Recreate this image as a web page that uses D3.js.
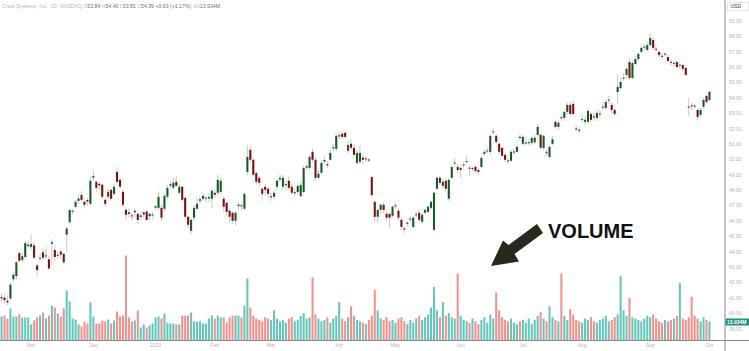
<!DOCTYPE html>
<html>
<head>
<meta charset="utf-8">
<script src="https://cdn.jsdelivr.net/npm/d3@7"></script>
<style>
  body { margin: 0; background: #fff; }
  svg { display: block; font-family: "Liberation Sans", Arial, sans-serif; }
</style>
</head>
<body>
<div id="chart"></div>
<script>
var width = 749, height = 351;
var plotRight = 725, axisY = 340.5;

// daily OHLC, CSCO, Oct 18 2022 .. Oct 2 2023
var openP = [
  40.95, 41.0, 40.8, 40.95, 42.2, 42.4, 43.9, 43.45, 43.65, 44.35,
  44.3, 44.4, 43.1, 43.55, 43.95, 43.7, 43.5, 44.5, 44.1, 43.72,
  44.0, 43.85, 45.1, 45.9, 46.6, 46.91, 47.3, 47.68, 47.23, 47.35,
  47.1, 48.8, 48.53, 48.4, 48.34, 47.36, 47.56, 48.01, 47.75, 49.18,
  48.66, 47.88, 46.71, 46.55, 46.35, 46.55, 46.45, 46.25, 46.4, 46.6,
  46.3, 46.35, 46.85, 46.84, 46.84, 46.78, 47.56, 48.28, 48.14, 48.53,
  47.82, 48.21, 47.49, 46.26, 45.35, 46.2, 46.78, 47.3, 47.43, 47.45,
  47.45, 47.43, 47.82, 47.82, 47.88, 47.43, 47.17, 46.65, 46.52, 46.0,
  46.95, 47.0, 46.78, 49.18, 50.61, 49.96, 49.1, 48.79, 48.08, 48.21,
  48.08, 47.52, 47.56, 48.21, 48.68, 48.21, 48.3, 48.6, 48.21, 47.78,
  47.87, 47.61, 47.87, 49.45, 49.43, 50.48, 49.96, 48.79, 49.12, 49.85,
  49.68, 49.96, 50.7, 50.67, 51.48, 51.65, 51.71, 50.55, 51.0, 50.74,
  49.76, 49.83, 50.1, 50.0, 49.98, 48.84, 47.23, 46.26, 46.71, 47.04,
  46.45, 46.45, 46.32, 46.93, 46.65, 46.06, 45.5, 45.8, 46.1, 45.6,
  46.36, 46.52, 45.93, 46.52, 46.58, 46.84, 45.41, 48.08, 48.79, 48.27,
  48.6, 47.43, 48.79, 49.72, 49.5, 49.3, 49.6, 49.82, 49.45, 49.43,
  49.5, 49.3, 49.5, 50.35, 50.52, 50.48, 51.74, 51.52, 51.0, 50.74,
  50.28, 49.92, 49.9, 50.45, 50.48, 51.45, 51.0, 51.04, 51.05, 51.06,
  51.1, 51.58, 51.58, 50.74, 50.45, 50.15, 51.0, 52.43, 52.1, 52.72,
  52.68, 53.07, 53.53, 53.59, 52.0, 51.92, 52.58, 52.43, 52.43, 52.94,
  52.78, 52.68, 52.92, 53.38, 53.33, 53.83, 53.53, 53.2, 54.37, 54.63,
  55.25, 55.48, 56.32, 55.28, 56.19, 56.51, 56.97, 57.27, 57.1, 57.42,
  57.75, 57.18, 56.97, 56.72, 56.82, 56.64, 56.33, 56.24, 56.32, 56.1,
  56.12, 55.93, 53.42, 53.5, 53.48, 53.2, 52.88, 53.4, 54.11, 53.84
];
var highP = [
  41.3, 41.2, 41.1, 42.0, 42.7, 43.4, 44.0, 43.9, 44.7, 44.7,
  45.1, 44.6, 43.2, 43.9, 44.2, 44.3, 43.7, 44.8, 44.4, 44.0,
  44.2, 43.9, 45.6, 46.8, 46.8, 47.35, 47.7, 47.9, 47.4, 47.5,
  48.9, 49.3, 48.6, 48.5, 48.4, 47.5, 48.1, 48.1, 48.4, 49.5,
  48.8, 48.0, 46.9, 46.8, 46.5, 46.8, 46.6, 46.5, 46.6, 46.7,
  46.5, 46.6, 47.0, 47.9, 47.0, 47.8, 48.3, 48.6, 48.8, 48.9,
  48.4, 48.3, 47.6, 46.3, 46.2, 47.0, 47.5, 47.6, 47.9, 47.6,
  47.8, 48.1, 48.0, 49.0, 48.8, 47.6, 47.3, 46.8, 46.6, 46.6,
  47.2, 47.1, 47.9, 50.9, 50.9, 50.1, 49.2, 48.9, 48.2, 48.4,
  48.2, 47.8, 48.0, 48.7, 49.0, 49.0, 48.6, 48.9, 48.4, 48.1,
  48.5, 48.6, 49.6, 49.7, 50.3, 50.7, 50.1, 49.3, 49.9, 50.2,
  49.9, 50.6, 51.0, 51.7, 51.8, 51.8, 51.9, 51.2, 51.3, 51.0,
  50.6, 50.9, 50.3, 50.2, 50.1, 48.9, 47.3, 46.8, 47.1, 47.2,
  46.6, 46.5, 47.0, 47.2, 46.8, 46.2, 45.6, 46.0, 46.3, 46.3,
  46.6, 46.7, 46.5, 46.8, 47.0, 47.3, 47.9, 48.9, 48.9, 48.7,
  48.7, 48.8, 49.6, 50.1, 49.7, 49.6, 49.8, 50.2, 49.6, 49.5,
  49.6, 49.4, 50.2, 50.6, 50.7, 51.6, 52.0, 51.6, 51.1, 50.8,
  50.4, 50.1, 50.6, 50.7, 51.0, 51.6, 51.6, 51.3, 51.3, 51.5,
  51.6, 52.3, 51.7, 51.6, 50.6, 50.9, 51.5, 52.6, 52.5, 52.9,
  53.2, 53.7, 53.7, 53.8, 52.2, 52.1, 52.9, 52.8, 53.3, 53.1,
  53.0, 53.2, 53.2, 53.7, 53.9, 54.1, 53.7, 53.3, 55.5, 55.3,
  55.6, 56.0, 56.5, 56.4, 56.7, 57.0, 57.4, 57.5, 57.6, 58.2,
  57.9, 57.3, 57.1, 56.9, 57.0, 56.8, 56.5, 56.4, 56.4, 56.3,
  56.2, 56.0, 54.0, 53.7, 53.6, 53.3, 53.4, 54.0, 54.2, 54.40
];
var lowP = [
  40.7, 40.6, 40.5, 40.8, 42.0, 42.2, 43.3, 43.3, 43.5, 44.2,
  44.1, 43.5, 42.4, 43.3, 43.4, 43.5, 42.8, 43.1, 43.4, 43.5,
  43.5, 43.2, 44.0, 45.8, 46.4, 46.8, 47.1, 47.2, 46.8, 47.0,
  47.0, 48.6, 47.9, 48.0, 47.4, 46.9, 47.4, 47.3, 47.6, 48.4,
  48.1, 46.9, 46.1, 46.2, 46.0, 46.2, 45.8, 46.1, 46.2, 46.0,
  46.0, 46.1, 46.7, 46.7, 46.0, 46.6, 47.4, 48.1, 48.0, 48.2,
  47.7, 47.2, 46.1, 45.5, 45.1, 46.0, 46.7, 47.1, 47.3, 47.2,
  47.2, 46.8, 47.5, 47.7, 47.7, 46.6, 46.3, 45.9, 45.8, 45.7,
  46.7, 46.7, 46.7, 49.0, 49.8, 48.9, 48.3, 48.2, 47.3, 47.6,
  47.4, 47.3, 47.4, 48.0, 48.5, 48.0, 48.0, 48.0, 47.7, 47.6,
  47.7, 47.5, 47.8, 49.3, 49.3, 49.8, 48.6, 48.7, 49.0, 49.7,
  49.4, 49.9, 50.5, 50.5, 51.3, 51.3, 51.3, 50.4, 50.6, 50.2,
  49.6, 49.7, 49.7, 49.8, 49.8, 47.5, 45.9, 45.9, 46.5, 46.5,
  46.0, 45.5, 46.2, 46.8, 46.0, 45.4, 45.2, 45.6, 45.9, 45.5,
  46.2, 45.9, 45.8, 46.4, 46.5, 46.7, 45.3, 48.0, 48.3, 48.1,
  47.9, 47.3, 48.7, 49.6, 49.1, 48.8, 49.4, 49.7, 48.9, 49.2,
  49.1, 49.0, 49.4, 50.2, 50.4, 50.3, 51.6, 51.0, 50.3, 50.1,
  49.8, 49.7, 49.8, 50.3, 50.4, 51.2, 50.9, 50.9, 50.9, 50.9,
  51.0, 51.4, 50.6, 50.6, 50.2, 50.0, 50.9, 52.0, 51.9, 52.5,
  52.5, 52.9, 52.8, 52.8, 51.8, 51.7, 52.4, 52.2, 52.3, 52.4,
  52.5, 52.5, 52.7, 53.2, 53.2, 53.6, 53.0, 52.8, 53.6, 54.5,
  55.1, 55.3, 55.2, 55.2, 56.1, 56.4, 56.9, 57.1, 57.0, 57.3,
  57.1, 57.0, 56.6, 56.5, 56.7, 56.3, 56.1, 56.0, 55.9, 55.9,
  55.7, 55.4, 52.8, 53.2, 53.3, 52.5, 52.7, 53.3, 53.6, 53.81
];
var closeP = [
  41.05, 40.85, 40.7, 41.85, 42.5, 43.3, 43.4, 43.7, 44.55, 44.45,
  44.5, 43.6, 42.8, 43.6, 43.6, 43.75, 42.9, 44.6, 43.65, 43.78,
  43.8, 43.3, 45.5, 46.7, 46.65, 47.23, 47.45, 47.36, 47.04, 47.25,
  48.6, 48.9, 48.14, 48.3, 47.56, 47.1, 47.88, 47.43, 48.21, 48.53,
  48.21, 47.04, 46.39, 46.45, 46.3, 46.65, 46.05, 46.35, 46.55, 46.05,
  46.45, 46.4, 46.95, 47.56, 46.2, 47.62, 48.14, 48.38, 48.47, 48.27,
  48.21, 47.36, 46.26, 45.74, 46.06, 46.84, 47.1, 47.4, 47.62, 47.5,
  47.55, 47.95, 47.69, 48.66, 48.6, 46.91, 46.58, 46.26, 46.0, 46.52,
  47.05, 46.95, 47.75, 50.15, 49.96, 48.99, 48.53, 48.47, 47.75, 48.01,
  47.75, 47.6, 47.82, 48.6, 48.78, 48.79, 48.38, 48.14, 47.82, 47.86,
  48.26, 48.33, 49.43, 49.55, 50.15, 49.96, 48.79, 49.05, 49.76, 49.95,
  49.6, 50.41, 50.78, 51.52, 51.56, 51.45, 51.45, 50.93, 50.74, 50.28,
  50.41, 50.41, 49.96, 50.05, 49.94, 47.67, 46.26, 46.71, 47.04, 46.71,
  46.2, 46.2, 46.91, 47.0, 46.2, 45.6, 45.45, 45.88, 46.14, 46.2,
  46.42, 46.06, 46.39, 46.71, 46.91, 47.23, 47.82, 48.79, 48.47, 48.53,
  48.08, 48.66, 49.5, 49.78, 49.3, 49.43, 49.66, 49.88, 49.4, 49.43,
  49.24, 49.18, 50.09, 50.48, 50.57, 51.52, 51.8, 51.13, 50.48, 50.22,
  49.96, 49.88, 50.48, 50.5, 50.8, 51.38, 51.45, 51.08, 51.1, 51.38,
  51.4, 52.1, 50.74, 51.52, 50.4, 50.8, 51.3, 52.1, 52.36, 52.66,
  53.07, 53.53, 52.94, 52.94, 51.95, 51.9, 52.62, 52.56, 53.14, 52.56,
  52.74, 53.01, 52.96, 53.42, 53.72, 53.87, 53.2, 52.94, 54.7, 55.02,
  55.3, 55.87, 55.28, 56.25, 56.51, 56.84, 57.23, 57.31, 57.42, 57.88,
  57.23, 57.14, 56.77, 56.7, 56.86, 56.38, 56.3, 56.26, 55.99, 56.14,
  55.87, 55.48, 53.38, 53.44, 53.44, 52.75, 53.2, 53.85, 53.72, 54.39
];
// volume, millions of shares
var volume = [
  17.5, 18.2, 16, 23.4, 17.5, 17.5, 19, 16.8, 16.8, 16.8,
  11.7, 14.6, 16.8, 18.2, 20.4, 16, 18.2, 25.5, 24, 19.7,
  17.5, 23.4, 36.5, 28.5, 16, 15.3, 11.7, 10.2, 13.9, 12.4,
  27.7, 17.5, 12.4, 12.4, 14.6, 13.9, 15.3, 12.4, 14.6, 21.2,
  17.5, 18.2, 62, 16.8, 13.9, 14.6, 21.9, 9.5, 11.7, 9.5,
  11, 12.4, 16.8, 17.5, 16, 19.7, 13.1, 12.4, 12.4, 11.7,
  11.7, 18.2, 18.2, 18.2, 20.4, 13.9, 13.9, 13.9, 12.4, 12.4,
  16, 18.2, 16, 18.2, 16.8, 16.8, 13.1, 16.8, 18.2, 18.2,
  18.2, 16.8, 25.5, 45.3, 24, 18, 16, 15, 14, 17,
  16, 15, 22, 16, 14, 15, 13, 16, 17, 14,
  15, 18, 20, 16, 17, 46, 19, 16, 14, 15,
  17, 13, 16, 18, 28, 16, 14, 17, 25, 18,
  15, 14, 13, 12, 15, 18, 37, 22, 16, 15,
  17, 14, 15, 13, 16, 17, 14, 12, 15, 13,
  16, 18, 15, 17, 19, 24, 39, 22, 17, 28,
  18, 20, 17, 16, 49, 18, 15, 14, 13, 16,
  14, 12, 15, 17, 13, 19, 16, 35, 22, 17,
  15, 14, 16, 13, 12, 14, 15, 13, 16, 12,
  15, 18, 21, 16, 14, 25, 17, 15, 14, 49,
  18, 15, 23, 19, 15, 14, 13, 16, 15, 17,
  14, 13, 15, 16, 18, 14, 15, 17, 19, 47,
  22, 18, 31, 17, 16, 15, 14, 16, 18, 17,
  19, 16, 14, 13, 15, 14, 15, 16, 18, 42,
  16, 15, 17, 32, 18, 16, 14, 17, 15, 13.934
];

var monthIdx = [10, 31, 52, 72, 91, 114, 133, 155, 176, 196, 219, 239];
var monthLabels = ["Nov", "Dec", "2023", "Feb", "Mar", "Apr", "May", "Jun", "Jul", "Aug", "Sep", "Oct"];
var priceTicks = [39, 40, 41, 42, 43, 44, 45, 46, 47, 48, 49, 50, 51, 52, 53, 54, 55, 56, 57, 58, 59];

var bars = openP.map(function(o, i) {
  return {i: i, o: o, h: highP[i], l: lowP[i], c: closeP[i], v: volume[i]};
});

var svg = d3.select("#chart")
  .append("svg")
    .attr("width", width)
    .attr("height", height);

var x = d3.scaleBand()
  .domain(d3.range(bars.length))
  .range([0.5, 710.5])
  .paddingInner(0.3);
var y = d3.scaleLinear()
  .domain([39, 59])
  .range([328.5, 20.7]);
var v = d3.scaleLinear()
  .domain([0, 100])
  .range([axisY, axisY - 137]);

var step = x.step();

// volume
svg.append("g")
  .selectAll("rect")
  .data(bars)
  .enter()
  .append("rect")
    .attr("x", function(d) { return x(d.i) + x.bandwidth() / 2 - (step - 0.9) / 2; })
    .attr("width", step - 0.9)
    .attr("y", function(d) { return v(d.v); })
    .attr("height", function(d) { return axisY - v(d.v); })
    .attr("fill", function(d) { return d.c >= d.o ? "#67c6bb" : "#f4918e"; });

// wicks
svg.append("g")
  .selectAll("line")
  .data(bars)
  .enter()
  .append("line")
    .attr("x1", function(d) { return x(d.i) + x.bandwidth() / 2; })
    .attr("x2", function(d) { return x(d.i) + x.bandwidth() / 2; })
    .attr("y1", function(d) { return y(d.h); })
    .attr("y2", function(d) { return y(d.l); })
    .attr("stroke", "#c9c9c9")
    .attr("stroke-width", 1);

// bodies
svg.append("g")
  .selectAll("rect")
  .data(bars)
  .enter()
  .append("rect")
    .attr("x", function(d) { return x(d.i); })
    .attr("width", x.bandwidth())
    .attr("y", function(d) { return y(Math.max(d.o, d.c)); })
    .attr("height", function(d) { return Math.max(1, Math.abs(y(d.o) - y(d.c))); })
    .attr("fill", function(d) { return d.c >= d.o ? "#145a23" : "#7e0e0e"; });

// axes
svg.append("line")
  .attr("x1", plotRight).attr("x2", plotRight)
  .attr("y1", 0).attr("y2", height)
  .attr("stroke", "#8a8a8a");
svg.append("line")
  .attr("x1", 0).attr("x2", width)
  .attr("y1", axisY).attr("y2", axisY)
  .attr("stroke", "#8a8a8a");

var yAxis = svg.append("g")
  .attr("transform", "translate(" + plotRight + ",0)")
  .call(d3.axisRight(y).tickValues(priceTicks).tickFormat(d3.format(".2f")).tickSize(0).tickPadding(4));
yAxis.select(".domain").remove();
yAxis.selectAll("text").attr("fill", "#b4b4b4").style("font-size", "5px");

var xAxis = svg.append("g")
  .attr("transform", "translate(0," + axisY + ")")
  .call(d3.axisBottom(x).tickValues(monthIdx)
    .tickFormat(function(d) { return monthLabels[monthIdx.indexOf(d)]; })
    .tickSize(0).tickPadding(3));
xAxis.select(".domain").remove();
xAxis.selectAll("text").attr("fill", "#b4b4b4").style("font-size", "5px");

// currency box
svg.append("rect")
  .attr("x", 727.5).attr("y", 2.5).attr("width", 21).attr("height", 8)
  .attr("fill", "#fff").attr("stroke", "#e3e3e3");
svg.append("text")
  .attr("x", 730.5).attr("y", 8.3)
  .style("font-size", "5px").attr("fill", "#333")
  .text("USD");

// last volume tag
svg.append("rect")
  .attr("x", 725.5).attr("y", 318.5).attr("width", 23.5).attr("height", 7)
  .attr("fill", "#22917f");
svg.append("text")
  .attr("x", 727).attr("y", 323.9)
  .style("font-size", "5px").style("font-weight", "bold").attr("fill", "#fff")
  .text(d3.format(".3f")(volume[volume.length - 1]) + "M");

// legend line
var last = bars[bars.length - 1];
var legend = svg.append("text")
  .attr("x", 2).attr("y", 7.5)
  .style("font-size", "5.2px").attr("fill", "#b8b8b8");
legend.append("tspan").text("Cisco Systems, Inc., 1D, NASDAQ ");
[["O", last.o], ["H", last.h], ["L", last.l], ["C", last.c]].forEach(function(p) {
  legend.append("tspan").text(" " + p[0]);
  legend.append("tspan").attr("fill", "#6f6f6f").text(d3.format(".2f")(p[1]));
});
legend.append("tspan").attr("fill", "#6f6f6f").text(" +0.63 (+1.17%)");
legend.append("tspan").text(" Vol");
legend.append("tspan").attr("fill", "#6f6f6f").text("13.934M");

// annotation
svg.append("polygon")
  .attr("points", "491,266 503,240.5 508.5,245 537,224 543,233 514.5,254 519,261.5")
  .attr("fill", "#2a271c");
svg.append("text")
  .attr("x", 548).attr("y", 238)
  .style("font-size", "20px").style("font-weight", "bold").attr("fill", "#111")
  .text("VOLUME");
</script>
</body>
</html>
